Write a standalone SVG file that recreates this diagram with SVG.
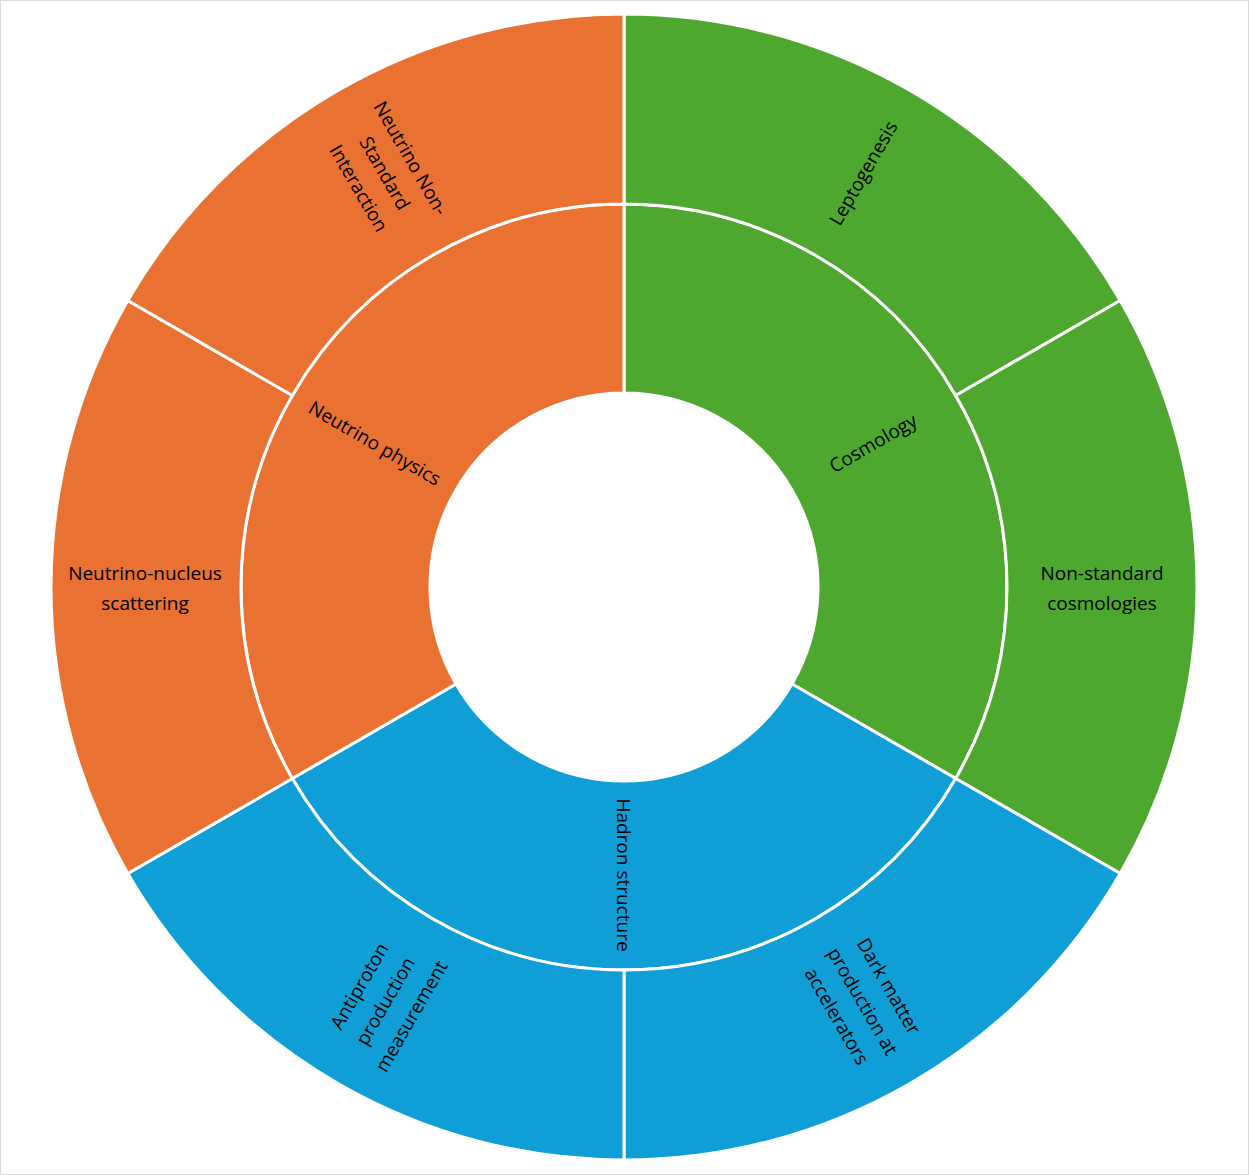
<svg xmlns="http://www.w3.org/2000/svg" width="1249" height="1175" viewBox="0 0 1249 1175">
<style>
.s{stroke:#fff;stroke-width:3;stroke-linejoin:round}
.o{fill:#E97132}.g{fill:#4EA72E}.b{fill:#0F9ED5}
text{font-family:"Open Sans","Liberation Sans",sans-serif;font-size:19px;fill:#000;text-anchor:middle;dominant-baseline:central}
</style>
<rect x="0.5" y="0.5" width="1248" height="1174" fill="#fff" stroke="#d9d9d9"/>
<g id="inner-cosmology"><path class="s g" d="M624,204 A383,383 0 0 1 955.7,778.5 L792,684 A194,194 0 0 0 624,393 Z"/><text transform="translate(873,443) rotate(-30)">Cosmology</text></g>
<g id="inner-hadron"><path class="s b" d="M955.7,778.5 A383,383 0 0 1 292.3,778.5 L456,684 A194,194 0 0 0 792,684 Z"/><text transform="translate(624,875) rotate(90)">Hadron structure</text></g>
<g id="inner-neutrino"><path class="s o" d="M292.3,778.5 A383,383 0 0 1 624,204 L624,393 A194,194 0 0 0 456,684 Z"/><text transform="translate(375,443) rotate(30)">Neutrino physics</text></g>
<g id="lepto"><path class="s g" d="M624,14 A573,573 0 0 1 1120.2,300.5 L955.7,395.5 A383,383 0 0 0 624,204 Z"/><text transform="translate(863,173) rotate(-60)">Leptogenesis</text></g>
<g id="nonstd"><path class="s g" d="M1120.2,300.5 A573,573 0 0 1 1120.2,873.5 L955.7,778.5 A383,383 0 0 0 955.7,395.5 Z"/><text x="1102" y="573">Non-standard</text><text x="1102" y="603">cosmologies</text></g>
<g id="darkmatter"><path class="s b" d="M1120.2,873.5 A573,573 0 0 1 624,1160 L624,970 A383,383 0 0 0 955.7,778.5 Z"/><g transform="translate(863,1001) rotate(60)"><text y="-30">Dark matter</text><text y="0">production at</text><text y="30">accelerators</text></g></g>
<g id="antiproton"><path class="s b" d="M624,1160 A573,573 0 0 1 127.8,873.5 L292.3,778.5 A383,383 0 0 0 624,970 Z"/><g transform="translate(385,1001) rotate(-60)"><text y="-30">Antiproton</text><text y="0">production</text><text y="30">measurement</text></g></g>
<g id="nucleus"><path class="s o" d="M127.8,873.5 A573,573 0 0 1 127.8,300.5 L292.3,395.5 A383,383 0 0 0 292.3,778.5 Z"/><text x="145" y="573">Neutrino-nucleus</text><text x="145" y="603">scattering</text></g>
<g id="nsi"><path class="s o" d="M127.8,300.5 A573,573 0 0 1 624,14 L624,204 A383,383 0 0 0 292.3,395.5 Z"/><g transform="translate(385,173) rotate(60)"><text y="-30">Neutrino Non-</text><text y="0">Standard</text><text y="30">Interaction</text></g></g>
<g id="connectors"/>
</svg>
